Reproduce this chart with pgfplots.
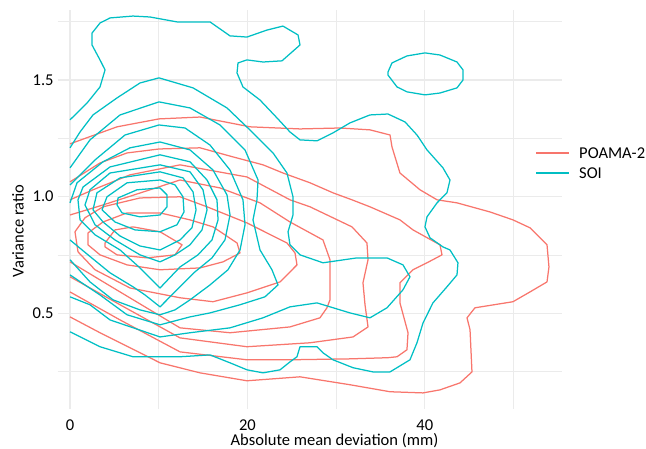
\documentclass[border=0pt]{standalone}
\usepackage{fontspec}
\setmainfont{Carlito}
\usepackage{pgfplots}
\pgfplotsset{compat=1.18}
\usetikzlibrary{calc}
\definecolor{poamacol}{HTML}{F8766D}
\definecolor{soicol}{HTML}{00BFC4}
\definecolor{poamaleg}{HTML}{F7756C}
\definecolor{soileg}{HTML}{01BEC3}
\definecolor{gridc}{HTML}{EBEBEB}
\newcommand{\lblfont}{\fontsize{16.6}{19}\selectfont}
\begin{document}
\begin{tikzpicture}
\begin{axis}[
  scale only axis, width=504.4bp, height=399bp,
  xmin=-1.4, xmax=55.47, ymin=0.089, ymax=1.80,
  xtick={0,20,40}, minor xtick={10,30,50},
  ytick={0.5,1,1.5}, yticklabels={0.5,1.0,1.5}, minor ytick={0.25,0.75,1.25,1.75},
  grid=both,
  major grid style={gridc, line width=1.1bp},
  minor grid style={gridc, line width=0.55bp},
  axis line style={draw=none},
  major tick length=0pt, minor tick length=0pt,
  /pgf/number format/assume math mode=true,
  tick label style={font=\lblfont, text=black},
  xticklabel style={anchor=base, yshift=-21bp, inner sep=0pt},
  yticklabel style={anchor=east, xshift=-0.5bp},
  xlabel={Absolute mean deviation (mm)},
  ylabel={Variance ratio},
  xlabel style={at={([xshift=24.7bp,yshift=-36bp]rel axis cs:0.5,0)}, anchor=base, font=\lblfont, inner sep=0pt},
  ylabel style={at={([xshift=-39.6bp]rel axis cs:0,0.446)}, anchor=center, font=\lblfont},
  every axis plot/.append style={line width=1.25bp, line join=round},
]
% ---------------- POAMA-2 ----------------
\addplot[draw=poamacol] coordinates {(0,1.226) (5.30,1.299) (10.03,1.333) (14.66,1.341) (20.29,1.299) (25.93,1.290) (30.44,1.294) (33.82,1.286) (36.08,1.264) (36.30,1.213) (37.20,1.101) (39.46,1.029) (41.38,0.986) (43.63,0.973) (47.35,0.934) (49.94,0.900) (51.86,0.866) (53.78,0.793) (54.00,0.698) (53.78,0.634) (51.86,0.591) (49.94,0.549) (45.66,0.523) (44.76,0.480) (45.10,0.429) (45.32,0.248) (43.97,0.201) (41.71,0.171) (39.80,0.158) (36.08,0.163) (31.57,0.193) (25.93,0.227) (19.95,0.210) (14.66,0.244) (10.15,0.287) (3.38,0.416) (0,0.484)};
\addplot[draw=poamacol] coordinates {(0,1.063) (3.38,1.144) (6.43,1.187) (10.03,1.204) (14.66,1.209) (18.38,1.170) (21.76,1.136) (24.01,1.101) (27.06,1.059) (29.65,1.016) (31.79,0.986) (33.82,0.956) (37.20,0.900) (38.67,0.857) (41.71,0.793) (41.94,0.750) (40.25,0.716) (38.67,0.686) (37.20,0.630) (37.20,0.544) (38.11,0.416) (37.99,0.343) (36.87,0.313) (35.85,0.309) (31.57,0.304) (24.80,0.300) (19.95,0.300) (12.40,0.334) (5.64,0.471) (0,0.591)};
\addplot[draw=poamacol] coordinates {(0,0.986) (2.59,1.029) (6.76,1.093) (12.40,1.136) (19.95,1.084) (24.80,0.986) (27.06,0.956) (31.79,0.870) (33.48,0.801) (33.60,0.729) (33.03,0.630) (33.26,0.536) (33.60,0.441) (31.91,0.398) (27.06,0.373) (19.95,0.356) (12.40,0.394) (5.64,0.536) (0,0.656)};
\addplot[draw=poamacol] coordinates {(0,0.921) (3.72,0.964) (9.02,1.029) (12.40,1.071) (16.91,1.037) (21.42,0.973) (24.80,0.891) (28.52,0.814) (29.31,0.729) (29.31,0.557) (28.97,0.523) (28.18,0.480) (24.80,0.441) (18.04,0.416) (12.40,0.437) (5.64,0.591) (0,0.720)};
\addplot[draw=poamacol] coordinates {(0.56,0.849) (1.69,0.909) (3.72,0.956) (7.89,0.994) (12.40,0.999) (15.45,0.956) (19.95,0.887) (24.46,0.801) (25.37,0.758) (25.59,0.707) (23.68,0.634) (19.95,0.587) (16.12,0.549) (12.40,0.566) (6.76,0.608) (2.82,0.686) (0.90,0.763) (0.56,0.849)};
\addplot[draw=poamacol] coordinates {(2.03,0.844) (3.72,0.891) (6.43,0.930) (10.15,0.930) (13.53,0.900) (16.12,0.870) (18.83,0.801) (19.17,0.758) (17.25,0.720) (14.66,0.694) (10.15,0.686) (6.43,0.707) (3.38,0.750) (2.03,0.793) (2.03,0.844)};
\addplot[draw=poamacol] coordinates {(3.95,0.801) (5.07,0.857) (7.10,0.870) (10.15,0.849) (12.63,0.793) (11.84,0.750) (8.68,0.737) (5.30,0.750) (3.95,0.784) (3.95,0.801)};
% ---------------- SOI ----------------
\addplot[draw=soicol] coordinates {(0,1.329) (1.92,1.401) (3.38,1.470) (3.95,1.543) (3.38,1.586) (2.48,1.650) (2.48,1.701) (3.38,1.744) (4.51,1.766) (7.10,1.774) (9.02,1.770) (12.06,1.749) (15.78,1.749) (18.04,1.689) (19.95,1.684) (22.21,1.714) (24.01,1.731) (25.71,1.693) (25.93,1.650) (23.90,1.582) (21.76,1.577) (19.95,1.586) (18.94,1.573) (18.83,1.530) (19.50,1.470) (21.42,1.414) (23.34,1.337) (24.80,1.277) (25.93,1.243) (27.85,1.239) (29.65,1.273) (31.57,1.316) (33.82,1.350) (35.85,1.354) (37.77,1.320) (39.12,1.264) (40.25,1.200) (42.05,1.123) (42.84,1.071) (42.50,1.016) (41.38,0.973) (40.25,0.913) (40.02,0.870) (40.59,0.823) (42.05,0.784) (42.84,0.771) (43.74,0.716) (43.63,0.664) (42.50,0.613) (40.92,0.544) (39.80,0.458) (39.12,0.373) (38.33,0.300) (36.08,0.248) (34.16,0.248) (31.91,0.266) (29.65,0.300) (28.52,0.330) (27.85,0.356) (25.93,0.356) (25.59,0.313) (24.80,0.291) (23.68,0.257) (21.76,0.244) (19.95,0.257) (18.04,0.287) (15.78,0.321) (12.40,0.313) (7.10,0.313) (3.38,0.356) (0,0.420)};
\addplot[draw=soicol] coordinates {(35.85,1.534) (36.30,1.573) (37.99,1.603) (40.02,1.616) (41.71,1.607) (43.63,1.577) (44.31,1.543) (44.31,1.500) (43.63,1.466) (41.71,1.444) (40.02,1.436) (37.99,1.449) (36.87,1.470) (35.85,1.521) (35.85,1.534)};
\addplot[draw=soicol] coordinates {(0,1.209) (1.13,1.277) (2.59,1.350) (5.30,1.423) (7.89,1.487) (10.03,1.509) (13.87,1.466) (17.70,1.380) (20.63,1.273) (22.89,1.187) (24.46,1.101) (25.14,0.999) (25.14,0.921) (24.58,0.849) (24.80,0.793) (25.93,0.750) (28.52,0.716) (32.36,0.737) (35.74,0.737) (37.54,0.707) (38.33,0.656) (37.54,0.600) (35.74,0.523) (33.82,0.480) (31.57,0.501) (27.85,0.544) (24.80,0.527) (21.76,0.480) (18.04,0.437) (13.53,0.416) (10.15,0.398) (4.51,0.471) (2.25,0.536) (0,0.570)};
\addplot[draw=soicol] coordinates {(0,1.123) (2.25,1.243) (5.64,1.350) (10.03,1.406) (13.53,1.380) (16.91,1.307) (19.73,1.200) (21.20,1.071) (21.08,0.986) (20.63,0.900) (21.42,0.771) (22.77,0.686) (23.45,0.621) (21.98,0.570) (19.17,0.536) (15.78,0.501) (13.53,0.484) (10.15,0.450) (6.43,0.493) (3.38,0.578) (0,0.664)};
\addplot[draw=soicol] coordinates {(0,1.050) (2.82,1.157) (6.20,1.264) (10.03,1.307) (12.97,1.294) (15.78,1.221) (18.04,1.114) (19.50,0.986) (19.73,0.879) (19.17,0.771) (17.81,0.686) (15.78,0.621) (13.53,0.557) (11.84,0.514) (10.15,0.493) (7.89,0.514) (4.85,0.557) (2.25,0.634) (0,0.729)};
\addplot[draw=soicol] coordinates {(0,0.973) (0.79,1.059) (3.72,1.149) (6.76,1.209) (10.15,1.234) (13.53,1.200) (16.12,1.114) (17.70,1.007) (18.04,0.921) (17.47,0.814) (16.01,0.737) (14.09,0.677) (12.40,0.613) (10.15,0.527) (8.46,0.578) (7.10,0.613) (4.51,0.673) (2.03,0.750) (0,0.814)};
\addplot[draw=soicol] coordinates {(0.90,0.986) (1.47,1.041) (4.51,1.127) (10.15,1.179) (13.53,1.149) (15.45,1.071) (16.57,0.986) (16.69,0.900) (16.01,0.814) (14.43,0.750) (12.40,0.698) (10.15,0.608) (7.89,0.694) (5.64,0.771) (2.82,0.836) (1.13,0.900) (0.90,0.986)};
\addplot[draw=soicol] coordinates {(1.69,0.964) (2.25,1.029) (4.51,1.101) (10.15,1.136) (13.53,1.106) (14.99,1.029) (15.45,0.943) (14.88,0.857) (13.53,0.793) (11.84,0.750) (10.15,0.720) (7.89,0.750) (5.07,0.814) (2.82,0.879) (1.69,0.964)};
\addplot[draw=soicol] coordinates {(2.59,0.943) (3.04,1.016) (5.64,1.080) (10.15,1.106) (12.74,1.080) (13.87,1.020) (14.21,0.943) (13.75,0.866) (12.40,0.814) (10.15,0.771) (7.89,0.788) (5.64,0.831) (3.72,0.891) (2.59,0.943)};
\addplot[draw=soicol] coordinates {(3.61,0.943) (4.17,0.999) (6.43,1.059) (10.15,1.071) (11.84,1.050) (12.74,0.999) (12.85,0.934) (12.06,0.879) (10.15,0.849) (7.33,0.857) (5.07,0.891) (3.61,0.943)};
\addplot[draw=soicol] coordinates {(5.30,0.964) (5.41,0.994) (7.55,1.029) (10.15,1.037) (10.94,1.007) (10.94,0.956) (10.15,0.921) (7.89,0.913) (5.86,0.930) (5.30,0.964)};
\end{axis}
% legend (keys and labels)
\fill[poamaleg] ($(current axis.south west)+(478.4bp,255.4bp)$) rectangle ++(33bp,1.25bp);
\node[anchor=base west, inner sep=0pt, font=\lblfont] at ($(current axis.south west)+(521.4bp,250.7bp)$) {POAMA-2};
\fill[soileg] ($(current axis.south west)+(478.4bp,235.4bp)$) rectangle ++(33bp,1.25bp);
\node[anchor=base west, inner sep=0pt, font=\lblfont] at ($(current axis.south west)+(521.4bp,230.7bp)$) {SOI};
\pgfresetboundingbox
\path[use as bounding box] ($(current axis.south west)+(-57.6bp,-40bp)$) rectangle ($(current axis.north east)+(84bp,10bp)$);
\end{tikzpicture}
\end{document}
